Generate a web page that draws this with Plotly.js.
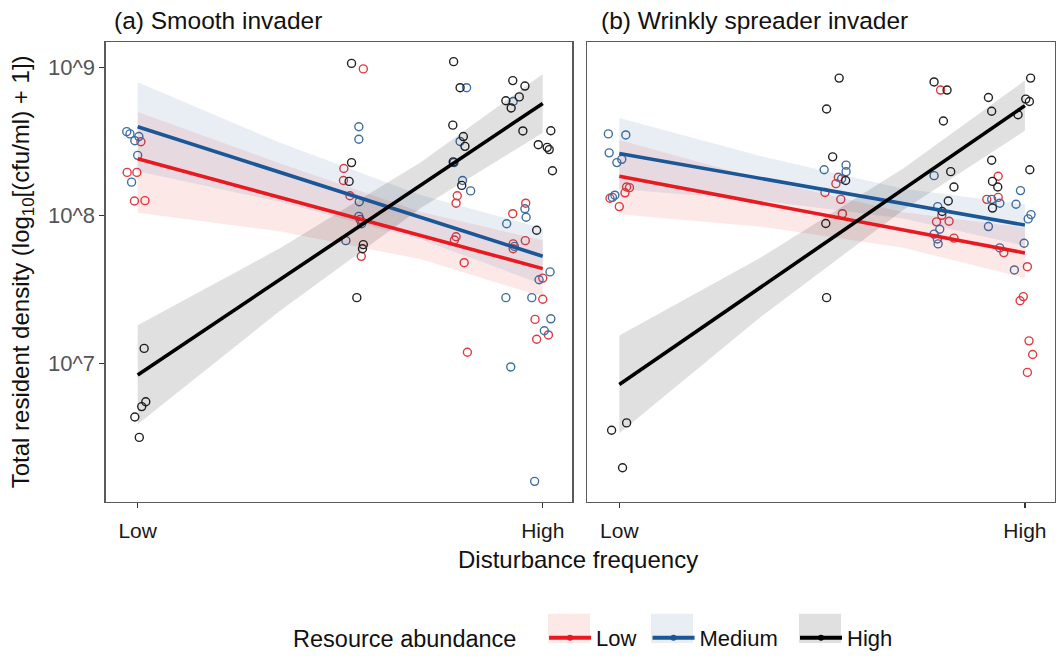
<!DOCTYPE html>
<html><head><meta charset="utf-8">
<script src="https://cdn.plot.ly/plotly-3.0.1.min.js"></script>
<style>html,body{margin:0;padding:0;background:#fff;overflow:hidden}#chart{width:1061px;height:659px}</style>
</head><body><div id="chart"></div>
<script>
// ---- data (log10 of total resident density; x = disturbance frequency, 0 = Low, 1 = High, jittered) ----
const groupNames = ["Low", "Medium", "High"];
const legendTitle = "Resource abundance";
const panelTitles = ["(a) Smooth invader", "(b) Wrinkly spreader invader"];
const xTitle = "Disturbance frequency";
const yTitle = "Total resident density (log<sub>10</sub>[(cfu/ml) + 1])";
const xTickVals = [0, 1];
const xTickText = ["Low", "High"];
const yTickVals = [7, 8, 9];
const yTickText = ["10^7", "10^8", "10^9"];

// Panel (a) points
const aLowX  = [0.008,-0.026,-0.002,-0.008,0.018, 0.557,0.509,0.508,0.524,0.549,0.552, 0.789,0.786,0.786,0.782,0.806,0.814, 0.927,0.927,0.958,0.926,0.957,1.000,1.000,0.981,1.014,0.985];
const aLowY  = [8.499,8.292,8.292,8.099,8.101, 8.991,8.318,8.237,8.134,7.974,7.725, 8.134,8.084,7.857,7.835,7.682,7.077, 7.809,7.776,8.084,8.013,7.831,7.578,7.435,7.299,7.194,7.165];
const aMedX  = [-0.027,-0.019,0.003,-0.007,0.000,-0.015, 0.546,0.546,0.547,0.546,0.553,0.514, 0.812,0.796,0.781,0.802,0.822, 0.927,0.956,0.959,0.911,0.930,0.991,1.018,0.909,0.973,1.020,1.004,0.921,0.980];
const aMedY  = [8.567,8.552,8.534,8.506,8.407,8.226, 8.600,8.516,8.094,7.995,7.945,7.831, 8.864,8.501,8.358,8.237,8.167, 8.771,8.046,7.989,7.945,7.792,7.567,7.620,7.446,7.446,7.303,7.222,6.978,6.205];
const aHighX = [0.016,0.020,0.010,-0.007,0.004, 0.528,0.528,0.522,0.557,0.555,0.541, 0.780,0.796,0.778,0.804,0.808,0.779,0.800, 0.926,0.956,0.909,0.922,0.942,0.951,1.020,0.989,1.011,1.016,1.024,0.985];
const aHighY = [7.103,6.743,6.710,6.640,6.502, 9.028,8.358,8.231,7.804,7.776,7.446, 9.040,8.864,8.611,8.534,8.468,8.363,8.204, 8.912,8.875,8.776,8.727,8.802,8.572,8.573,8.479,8.461,8.446,8.303,7.901];

// Panel (b) points
const bLowX  = [0.018,0.025,0.014,-0.023,0.000, 0.540,0.534,0.507,0.546,0.550, 0.792,0.795,0.782,0.813,0.825, 0.934,0.934,0.906,0.948,1.006,0.996,0.988,1.010,1.019,1.006];
const bLowY  = [8.193,8.189,8.154,8.117,8.061, 8.259,8.216,8.156,8.110,8.013, 8.848,8.002,7.958,7.962,7.848, 8.266,8.123,8.110,7.750,7.655,7.453,7.425,7.154,7.062,6.941];
const bMedX  = [-0.027,0.016,-0.025,-0.006,0.006,-0.011,-0.017, 0.505,0.559,0.559,0.548, 0.776,0.785,0.790,0.776,0.784,0.786, 0.989,0.918,0.938,0.978,1.015,1.008,0.910,0.938,0.998,0.974];
const bMedY  = [8.552,8.545,8.424,8.358,8.380,8.138,8.123, 8.310,8.341,8.297,8.249, 8.270,8.061,7.908,7.875,7.842,7.809, 8.169,8.110,8.084,8.077,8.007,7.978,7.926,7.782,7.813,7.633];
const bHighX = [0.018,-0.019,0.008, 0.542,0.511,0.526,0.558,0.509,0.511, 0.776,0.808,0.799,0.817,0.825,0.811,0.796, 1.014,0.910,1.002,1.011,0.918,0.983,0.918,1.012,0.920,0.933,0.920];
const bHighY = [6.600,6.550,6.297, 8.929,8.720,8.397,8.237,7.947,7.446, 8.903,8.848,8.639,8.297,8.193,8.099,8.028, 8.929,8.798,8.787,8.771,8.705,8.681,8.374,8.310,8.231,8.193,8.051];

// Fitted lines (value at Low and High)
const fitX = [0, 1];
const aFitLow = [8.384, 7.642], aFitMed = [8.600, 7.725], aFitHigh = [6.924, 8.758];
const bFitLow = [8.266, 7.748], bFitMed = [8.420, 7.936], bFitHigh = [6.860, 8.743];

// Confidence ribbons (upper / lower) read at these x positions
const ribX = [0, 0.35, 0.7, 1];
const aRibLowUp  = [8.70, 8.354, 8.025, 7.832], aRibLowLo  = [8.02, 7.894, 7.705, 7.452];
const aRibMedUp  = [8.90, 8.494, 8.138, 7.915], aRibMedLo  = [8.30, 8.094, 7.838, 7.535];
const aRibHighUp = [7.26, 7.778, 8.363, 8.956], aRibHighLo = [6.59, 7.354, 8.053, 8.560];
const bRibLowUp  = [8.51, 8.245, 8.023, 7.918], bRibLowLo  = [8.01, 7.925, 7.783, 7.578];
const bRibMedUp  = [8.66, 8.401, 8.181, 8.076], bRibMedLo  = [8.18, 8.101, 7.981, 7.796];
const bRibHighUp = [7.19, 7.719, 8.318, 8.913], bRibHighLo = [6.53, 7.319, 8.038, 8.573];

// ---- styling ----
const lineColors  = ["#E8191F", "#1B5796", "#000000"];
const pointColors = ["#E0393E", "#3D6FA6", "#222222"];
const ribColors   = ["rgba(232,25,31,0.10)", "rgba(27,87,150,0.10)", "rgba(0,0,0,0.12)"];
const keyColors   = ["rgba(232,25,31,0.10)", "rgba(27,87,150,0.10)", "rgba(0,0,0,0.12)"];
const legendPad   = ["\u00A0", "\u00A0\u00A0", ""];
const FONT = "Liberation Sans, Arial, Helvetica, sans-serif";

const panels = [
  {xa: "x",  ya: "y",  pts: [[aLowX,aLowY],[aMedX,aMedY],[aHighX,aHighY]], fits: [aFitLow,aFitMed,aFitHigh],
   ribs: [[aRibLowUp,aRibLowLo],[aRibMedUp,aRibMedLo],[aRibHighUp,aRibHighLo]]},
  {xa: "x2", ya: "y2", pts: [[bLowX,bLowY],[bMedX,bMedY],[bHighX,bHighY]], fits: [bFitLow,bFitMed,bFitHigh],
   ribs: [[bRibLowUp,bRibLowLo],[bRibMedUp,bRibMedLo],[bRibHighUp,bRibHighLo]]}
];

const traces = [];
panels.forEach(p => {
  p.pts.forEach((xy, g) => {
    traces.push({type: "scatter", mode: "markers", x: xy[0], y: xy[1], xaxis: p.xa, yaxis: p.ya,
      showlegend: false, hoverinfo: "skip",
      marker: {symbol: "circle-open", size: 8, color: pointColors[g], line: {width: 1.4, color: pointColors[g]}}});
  });
  p.ribs.forEach((r, g) => {
    traces.push({type: "scatter", mode: "lines", x: ribX.concat(ribX.slice().reverse()),
      y: r[0].concat(r[1].slice().reverse()), xaxis: p.xa, yaxis: p.ya,
      fill: "toself", fillcolor: ribColors[g], line: {width: 0}, showlegend: false, hoverinfo: "skip"});
  });
  p.fits.forEach((f, g) => {
    traces.push({type: "scatter", mode: "lines", x: fitX, y: f, xaxis: p.xa, yaxis: p.ya,
      showlegend: false, line: {color: lineColors[g], width: 3.6}});
  });
});
// legend entries
groupNames.forEach((n, g) => {
  traces.push({type: "scatter", mode: "lines+markers", x: [null], y: [null], name: n + legendPad[g],
    line: {color: lineColors[g], width: 4}, marker: {color: lineColors[g], size: 6}, showlegend: true});
});

const axisCommon = {showline: true, mirror: true, linecolor: "#5a5a5a", linewidth: 1.3, showgrid: false,
  zeroline: false, ticks: "outside", ticklen: 5, tickwidth: 1.3, tickcolor: "#333"};

// legend key backgrounds (pixel positions of the key boxes)
const keyBoxesPx = [[548, 590], [651, 693], [799, 841]];
const shapes = keyBoxesPx.map((b, g) => ({type: "rect", xref: "paper", yref: "paper", layer: "below",
  x0: b[0] / 1061, x1: b[1] / 1061, y0: 0, y1: 1 - 629 / 659, fillcolor: keyColors[g], line: {width: 0}}));

const layout = {
  width: 1061, height: 659, margin: {l: 0, r: 0, t: 0, b: 0},
  paper_bgcolor: "#fff", plot_bgcolor: "#fff",
  font: {family: FONT, color: "#111"},
  xaxis: Object.assign({}, axisCommon, {domain: [0.0996, 0.5394], range: [-0.079, 1.073],
    tickvals: xTickVals, ticktext: xTickText, tickfont: {size: 21, color: "#1a1a1a"}, ticklabelstandoff: 5}),
  xaxis2: Object.assign({}, axisCommon, {domain: [0.5535, 0.9943], range: [-0.079, 1.074], anchor: "y2",
    tickvals: xTickVals, ticktext: xTickText, tickfont: {size: 21, color: "#1a1a1a"}, ticklabelstandoff: 5}),
  yaxis: Object.assign({}, axisCommon, {domain: [0.2196, 0.9343], range: [6.067, 9.171],
    tickvals: yTickVals, ticktext: yTickText, tickfont: {size: 22, color: "#555"}}),
  yaxis2: Object.assign({}, axisCommon, {domain: [0.2196, 0.9343], range: [6.067, 9.171], anchor: "x2",
    ticks: "", showticklabels: false}),
  shapes: shapes,
  showlegend: true,
  legend: {orientation: "h", x: 0.2743, xanchor: "left", y: 0.008, yanchor: "middle",
    font: {size: 22, family: FONT, color: "#111"},
    title: {text: legendTitle + "\u00A0\u00A0\u00A0", side: "left", font: {size: 23.5}},
    itemwidth: 42, bgcolor: "rgba(0,0,0,0)"},
  annotations: [
    {text: panelTitles[0], xref: "paper", yref: "paper", x: 0.1056, y: 0.968, xanchor: "left", yanchor: "middle",
      showarrow: false, font: {size: 24.5}},
    {text: panelTitles[1], xref: "paper", yref: "paper", x: 0.5645, y: 0.968, xanchor: "left", yanchor: "middle",
      showarrow: false, font: {size: 24.5}},
    {text: xTitle, xref: "paper", yref: "paper", x: 0.5443, y: 0.130, xanchor: "center",
      yanchor: "middle", showarrow: false, font: {size: 24}},
    {text: yTitle, xref: "paper", yref: "paper", x: 0.0207, y: 0.578,
      xanchor: "center", yanchor: "middle", textangle: -90, showarrow: false, font: {size: 24}}
  ]
};

Plotly.newPlot("chart", traces, layout, {displayModeBar: false, staticPlot: true});
</script></body></html>
